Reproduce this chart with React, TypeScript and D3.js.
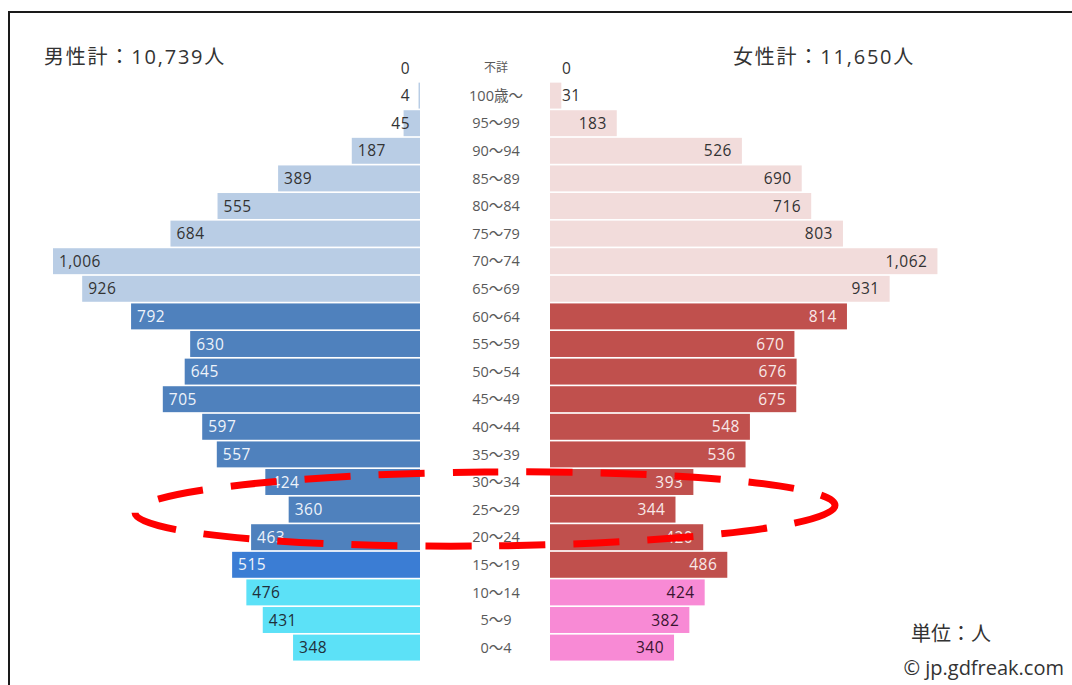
import React, { useEffect, useRef } from "react";
import * as d3 from "d3";

/* DATA */
const ageGroups = [
  "不詳", "100歳～", "95～99", "90～94", "85～89", "80～84", "75～79", "70～74",
  "65～69", "60～64", "55～59", "50～54", "45～49", "40～44", "35～39", "30～34",
  "25～29", "20～24", "15～19", "10～14", "5～9", "0～4",
];
const maleValues = [
  0, 4, 45, 187, 389, 555, 684, 1006, 926, 792, 630, 645, 705, 597, 557, 424,
  360, 463, 515, 476, 431, 348,
];
const femaleValues = [
  0, 31, 183, 526, 690, 716, 803, 1062, 931, 814, 670, 676, 675, 548, 536, 393,
  344, 420, 486, 424, 382, 340,
];
const maleTotal = "男性計：10,739人";
const femaleTotal = "女性計：11,650人";

const font = "'Open Sans', 'Noto Sans CJK JP', sans-serif";

const App = () => {
  const ref = useRef<SVGSVGElement>(null);

  useEffect(() => {
    const width = 1072;
    const height = 685;
    const maleRight = 420;
    const femaleLeft = 550;
    const maxWidth = 367; // px for 1006

    const svg = d3.select(ref.current);
    svg.selectAll("*").remove();
    svg.attr("width", width).attr("height", height);

    svg.append("rect").attr("width", width).attr("height", height).attr("fill", "#fff");

    /* frame */
    svg
      .append("rect")
      .attr("x", 9)
      .attr("y", 12)
      .attr("width", width + 20)
      .attr("height", height + 20)
      .attr("fill", "none")
      .attr("stroke", "#1a1a1a")
      .attr("stroke-width", 2);

    /* scales */
    const y = d3
      .scaleBand()
      .domain(ageGroups)
      .range([68 - 13.8, 68 + 21 * 27.6 + 13.8])
      .paddingInner(0.06)
      .paddingOuter(0.03);
    const x = d3.scaleLinear().domain([0, 1006]).range([0, maxWidth]);

    const maleColor = (i: number) =>
      i <= 8 ? "#b9cde5" : i === 18 ? "#3b7dd4" : i >= 19 ? "#5ce1f7" : "#4f81bd";
    const femaleColor = (i: number) =>
      i <= 8 ? "#f2dcdb" : i >= 19 ? "#f88ad5" : "#c0504d";
    const maleText = (i: number) => (i <= 8 ? "#333" : i >= 19 ? "#1f2f3a" : "#eef3fa");
    const femaleText = (i: number) => (i <= 8 ? "#333" : i >= 19 ? "#3a1530" : "#f8e8e8");

    const fmt = d3.format(",");

    const g = svg.append("g");

    /* male bars */
    g.selectAll("rect.male")
      .data(maleValues)
      .join("rect")
      .attr("class", "male")
      .attr("x", (d) => maleRight - x(d))
      .attr("y", (_, i) => y(ageGroups[i])!)
      .attr("width", (d) => x(d))
      .attr("height", y.bandwidth())
      .attr("fill", (_, i) => maleColor(i));

    g.selectAll("text.male")
      .data(maleValues)
      .join("text")
      .attr("class", "male")
      .attr("x", (d) => (x(d) < 45 ? 410 : maleRight - x(d) + 6))
      .attr("y", (_, i) => y(ageGroups[i])! + y.bandwidth() / 2)
      .attr("dy", "0.36em")
      .attr("text-anchor", (d) => (x(d) < 45 ? "end" : "start"))
      .attr("font-family", font)
      .attr("font-size", 15.5)
      .attr("letter-spacing", 0.5)
      .attr("fill", (_, i) => maleText(i))
      .text((d) => fmt(d));

    /* female bars */
    g.selectAll("rect.female")
      .data(femaleValues)
      .join("rect")
      .attr("class", "female")
      .attr("x", femaleLeft)
      .attr("y", (_, i) => y(ageGroups[i])!)
      .attr("width", (d) => x(d))
      .attr("height", y.bandwidth())
      .attr("fill", (_, i) => femaleColor(i));

    g.selectAll("text.female")
      .data(femaleValues)
      .join("text")
      .attr("class", "female")
      .attr("x", (d) => (x(d) < 45 ? 562 : femaleLeft + x(d) - 10))
      .attr("y", (_, i) => y(ageGroups[i])! + y.bandwidth() / 2)
      .attr("dy", "0.36em")
      .attr("text-anchor", (d) => (x(d) < 45 ? "start" : "end"))
      .attr("font-family", font)
      .attr("font-size", 15.5)
      .attr("letter-spacing", 0.5)
      .attr("fill", (_, i) => femaleText(i))
      .text((d) => fmt(d));

    /* age labels */
    g.selectAll("text.age")
      .data(ageGroups)
      .join("text")
      .attr("class", "age")
      .attr("x", 496)
      .attr("y", (d) => y(d)! + y.bandwidth() / 2)
      .attr("dy", "0.36em")
      .attr("text-anchor", "middle")
      .attr("font-family", font)
      .attr("font-size", (d) => (d === "不詳" ? 12 : 14.5))
      .attr("fill", "#595959")
      .text((d) => d);

    /* totals and notes */
    const note = (t: string, px: number, py: number, size: number, anchor = "start", ls = 0) =>
      svg
        .append("text")
        .attr("x", px)
        .attr("y", py)
        .attr("font-family", font)
        .attr("font-size", size)
        .attr("letter-spacing", ls)
        .attr("fill", "#333")
        .attr("text-anchor", anchor)
        .text(t);
    note(maleTotal, 44, 64, 20, "start", 1.8);
    note(femaleTotal, 733, 64, 20, "start", 1.8);
    note("単位：人", 911, 641, 20);
    note("© jp.gdfreak.com", 1064, 675, 20, "end");

    /* red dashed ellipse annotation */
    svg
      .append("ellipse")
      .attr("cx", 485)
      .attr("cy", 509)
      .attr("rx", 350)
      .attr("ry", 37)
      .attr("transform", "rotate(-0.6 485 509)")
      .attr("fill", "none")
      .attr("stroke", "#ff0000")
      .attr("stroke-width", 7)
      .attr("stroke-dasharray", "46 28");
  }, []);

  return (
    <svg ref={ref} style={{ position: "absolute", left: 0, top: 0 }} />
  );
};

export default App;
